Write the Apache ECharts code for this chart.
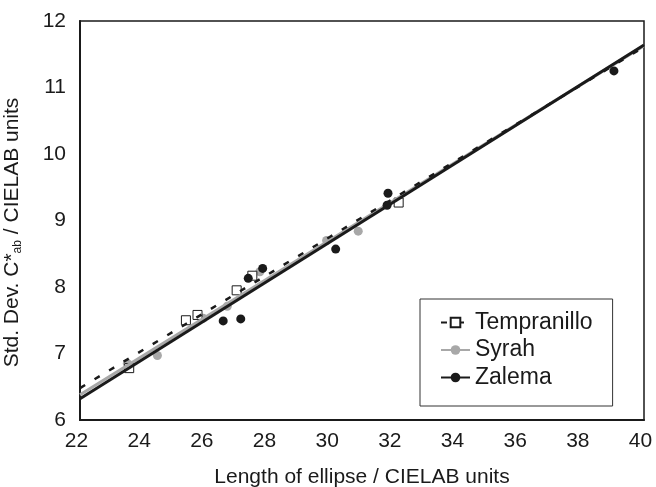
<!DOCTYPE html>
<html>
<head>
<meta charset="utf-8">
<script src="https://cdn.jsdelivr.net/npm/echarts@6/dist/echarts.min.js"></script>
<style>
html,body{margin:0;padding:0;background:#fff;}
#c{width:656px;height:487px;}
</style>
</head>
<body>
<div id="c"></div>
<script>
// Data
var seriesNames = ['Tempranillo', 'Syrah', 'Zalema'];
var tempX = [23.57, 25.38, 25.75, 27.0, 27.5, 32.17];
var tempY = [6.78, 7.50, 7.58, 7.95, 8.17, 9.27];
var syrahX = [23.51, 24.47, 25.93, 26.70, 27.74, 29.87, 30.88];
var syrahY = [6.85, 6.97, 7.53, 7.71, 8.23, 8.70, 8.84];
var zalemaX = [26.57, 27.13, 27.37, 27.83, 30.16, 31.80, 31.83, 39.04];
var zalemaY = [7.49, 7.52, 8.13, 8.28, 8.57, 9.23, 9.41, 11.25];
// Fitted regression lines (endpoints at x = 22 and x = 40)
var fitX = [22, 40];
var tempFit = [6.48, 11.61];
var syrahFit = [6.38, 11.63];
var zalemaFit = [6.32, 11.64];
var xTicks = [22, 24, 26, 28, 30, 32, 34, 36, 38, 40];
var yTicks = [6, 7, 8, 9, 10, 11, 12];

function pairs(xs, ys) { return xs.map(function (x, i) { return [x, ys[i]]; }); }

var BLACK = '#1a1a1a';
var GRAY = '#a8a8a8';
var FONT = 'Liberation Sans, Arial, sans-serif';

var chart = echarts.init(document.getElementById('c'), null, {renderer: 'canvas'});
chart.setOption({
  animation: false,
  backgroundColor: '#fff',
  textStyle: {fontFamily: FONT, color: BLACK},
  grid: {left: 80, right: 12, top: 21, bottom: 67, containLabel: false, outerBoundsMode: 'none',
         show: true, borderColor: BLACK, borderWidth: 1.5, backgroundColor: 'transparent'},
  legend: {
    data: seriesNames,
    left: 420, top: 299,
    orient: 'vertical',
    padding: [12, 20, 17, 20],
    itemGap: 4.5,
    itemWidth: 29,
    itemHeight: 12,
    borderColor: '#333',
    borderWidth: 1,
    backgroundColor: '#fff',
    textStyle: {fontSize: 23, fontFamily: FONT, color: BLACK}
  },
  xAxis: {
    type: 'value', min: xTicks[0], max: xTicks[xTicks.length - 1], interval: 2,
    name: 'Length of ellipse / CIELAB units',
    nameLocation: 'middle', nameGap: 47,
    nameTextStyle: {fontSize: 21, fontFamily: FONT, color: BLACK},
    axisLine: {show: true, lineStyle: {color: BLACK, width: 2}},
    axisTick: {show: false},
    splitLine: {show: false},
    axisLabel: {fontSize: 21, fontFamily: FONT, color: BLACK, margin: 11, padding: [0, 7, 0, 0]}
  },
  yAxis: {
    type: 'value', min: yTicks[0], max: yTicks[yTicks.length - 1], interval: 1,
    name: 'Std. Dev. C*{sub|ab} / CIELAB units',
    nameLocation: 'middle', nameGap: 56, nameRotate: 90,
    nameTextStyle: {
      fontSize: 21, fontFamily: FONT, color: BLACK, lineHeight: 24,
      padding: [0, 24, 0, 0],
      rich: {sub: {fontSize: 12, fontFamily: FONT, color: BLACK, lineHeight: 12, verticalAlign: 'bottom'}}
    },
    axisLine: {show: true, lineStyle: {color: BLACK, width: 2}},
    axisTick: {show: false},
    splitLine: {show: false},
    axisLabel: {fontSize: 21, fontFamily: FONT, color: BLACK, margin: 14, padding: [0, 0, 8, 0]}
  },
  series: [
    {name: 'Tempranillo', type: 'line', data: pairs(fitX, tempFit), symbol: 'rect', symbolSize: 8, showSymbol: false,
     lineStyle: {color: BLACK, width: 2.5, type: [6, 11]}, itemStyle: {color: '#fff', borderColor: BLACK, borderWidth: 1}, z: 5, silent: true},
    {name: 'Syrah', type: 'line', data: pairs(fitX, syrahFit), symbol: 'circle', symbolSize: 8, showSymbol: false,
     lineStyle: {color: GRAY, width: 3}, itemStyle: {color: GRAY}, z: 4, silent: true},
    {name: 'Zalema', type: 'line', data: pairs(fitX, zalemaFit), symbol: 'circle', symbolSize: 8, showSymbol: false,
     lineStyle: {color: BLACK, width: 3}, itemStyle: {color: BLACK}, z: 6, silent: true},
    {name: 'Syrah', type: 'scatter', data: pairs(syrahX, syrahY), symbol: 'circle', symbolSize: 9,
     itemStyle: {color: GRAY, opacity: 1}, z: 2},
    {name: 'Tempranillo', type: 'scatter', data: pairs(tempX, tempY), symbol: 'rect', symbolSize: 9,
     itemStyle: {color: '#fff', borderColor: BLACK, borderWidth: 1, opacity: 1}, z: 3},
    {name: 'Zalema', type: 'scatter', data: pairs(zalemaX, zalemaY), symbol: 'circle', symbolSize: 9,
     itemStyle: {color: BLACK, opacity: 1}, z: 7}
  ]
});
</script>
</body>
</html>
